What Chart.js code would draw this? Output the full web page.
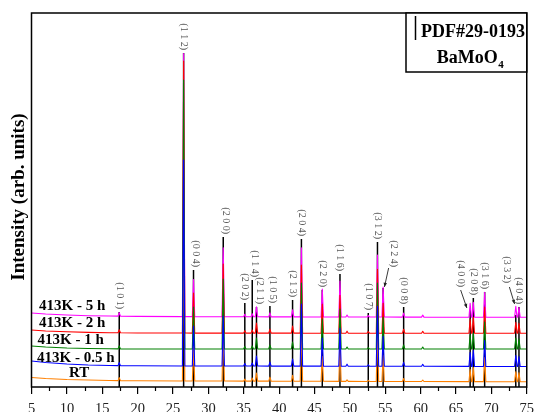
<!DOCTYPE html>
<html><head><meta charset="utf-8">
<script src="https://cdn.jsdelivr.net/npm/chart.js@4"></script>
<style>html,body{margin:0;padding:0;background:#fff;}canvas{display:block;}</style>
</head><body>
<canvas id="c" width="540" height="412"></canvas>
<script>
// ---- data (2theta in degrees, intensity in arbitrary units) ----
const seriesNames = ['RT', '413K - 0.5 h', '413K - 1 h', '413K - 2 h', '413K - 5 h'];
const baseX = [5, 7, 10, 13, 16, 20, 30, 50, 75];
const baseRT  = [9.5, 8.5, 7.5, 7.0, 6.5, 6.2, 6.0, 5.6, 5.3];
const base05h = [26, 24.5, 23, 22, 21.5, 21.2, 21, 20.8, 20.5];
const base1h  = [41, 40, 39, 38.5, 38.2, 38, 38, 38, 38];
const base2h  = [57, 56, 55.2, 54.6, 54.3, 54, 53.9, 53.8, 53.7];
const base5h  = [74, 73, 72, 71.3, 71, 70.6, 70.3, 70, 69.7];

const peakPos = [17.4, 26.5, 27.9, 32.1, 35.15, 36.2, 36.8, 38.7, 41.9, 43.15, 46.1, 48.6, 49.6, 52.6, 53.9, 54.7, 57.6, 60.3, 67.0, 67.45, 69.05, 73.45, 73.9];
const heightRT  = [3, 180, 35, 50, 2, 3, 8, 4, 6, 55, 25, 34, 1.5, 1, 55, 26, 3, 1.5, 12, 14, 24, 10, 9];
const height05h = [3, 206, 40, 50, 2.5, 3, 10, 4, 7, 62, 28, 38, 2, 1.5, 60, 30, 4, 2, 14, 16, 26, 11, 10];
const height1h  = [3, 269, 42, 70, 2.5, 3, 11, 4, 7, 66, 30, 40, 2, 1.5, 66, 32, 4, 2, 14, 16, 27, 11, 10];
const height2h  = [3, 272, 40, 69, 2.5, 3, 10, 4, 7, 68, 29, 38, 2, 1.5, 64, 30, 4, 2, 14, 16, 26, 11, 10];
const height5h  = [3.5, 263, 37, 69, 2.5, 3, 10, 4, 7, 69, 28, 36, 2, 1.5, 62, 30, 4, 2, 14, 15, 25, 11, 10];

// PDF#29-0193 reference lines
const stickPos = [17.4, 26.5, 27.9, 32.1, 35.15, 36.2, 36.8, 38.7, 41.9, 43.15, 46.1, 48.6, 52.6, 53.9, 54.7, 57.6, 67.0, 67.45, 69.05, 73.45, 73.9];
const stickTop = [75, 334, 117, 150, 84, 107, 80, 81, 87, 148, 97, 113, 74, 145, 99, 80, 77, 89, 95, 72, 80];
const stickHkl = ['(1 0 1)','(1 1 2)','(0 0 4)','(2 0 0)','(2 0 2)','(1 1 4)','(2 1 1)','(1 0 5)','(2 1 3)','(2 0 4)','(2 2 0)','(1 1 6)','(1 0 7)','(3 1 2)','(2 2 4)','(0 0 8)','(4 0 0)','(2 0 8)','(3 1 6)','(3 3 2)','(4 0 4)'];

const xTicks = [5, 10, 15, 20, 25, 30, 35, 40, 45, 50, 55, 60, 65, 70, 75];

// ---- layout / style (not data) ----
const HW = 0.17;
const colors = {'RT':'#ff8000','413K - 0.5 h':'#0000ff','413K - 1 h':'#008000','413K - 2 h':'#ff0000','413K - 5 h':'#ff00ff'};
const labelDx = {'(0 0 4)':2,'(2 0 0)':2,'(1 1 4)':2,'(2 1 1)':3,'(1 0 5)':3};
const arrowLabels = {
  '(2 2 4)': {lx:10.6, ly:-21, a0:[5.5,-20], a1:[1.3,-1]},
  '(4 0 0)': {lx:-10, ly:-23, a0:[-9.5,-20], a1:[-3.3,-2]},
  '(3 3 2)': {lx:-8.8, ly:-32, a0:[-6.4,-28], a1:[-1.2,-11]}
};
const nameLabelPos = {'413K - 5 h':[39,306.5],'413K - 2 h':[39,323],'413K - 1 h':[37.5,340],'413K - 0.5 h':[37,358],'RT':[69,373.5]};

function baseAt(base, x) {
  for (let i = 0; i < baseX.length - 1; i++) {
    if (x >= baseX[i] && x <= baseX[i+1]) {
      const t = (x - baseX[i]) / (baseX[i+1] - baseX[i]);
      return base[i] + t * (base[i+1] - base[i]);
    }
  }
  return base[base.length - 1];
}
function buildTrace(base, heights) {
  const pts = baseX.map((x, i) => ({x, y: base[i]}));
  peakPos.forEach((p, i) => {
    const b = baseAt(base, p);
    pts.push({x: p - HW, y: b}, {x: p, y: b + heights[i]}, {x: p + HW, y: b});
  });
  pts.sort((a, b) => a.x - b.x);
  return pts;
}
const sticks = [];
stickPos.forEach((p, i) => { sticks.push({x: p, y: 0}, {x: p, y: stickTop[i]}, {x: p, y: null}); });

const traceDefs = [
  ['RT', baseRT, heightRT, 9],
  ['413K - 5 h', base5h, height5h, 8],
  ['413K - 2 h', base2h, height2h, 7],
  ['413K - 1 h', base1h, height1h, 6],
  ['413K - 0.5 h', base05h, height05h, 5]
];
const datasets = [{label: 'PDF#29-0193', data: sticks, borderColor: '#000', borderWidth: 1.5, pointRadius: 0, order: 10, spanGaps: false}];
traceDefs.forEach(([name, b, h, ord]) => {
  datasets.push({label: name, data: buildTrace(b, h), borderColor: colors[name], borderWidth: 1.1, pointRadius: 0, order: ord, tension: 0});
});

const SERIF = '"Liberation Serif", "Times New Roman", serif';
const decor = {
  id: 'decor',
  beforeDraw(chart) {
    const ctx = chart.ctx; ctx.save(); ctx.fillStyle = '#fff'; ctx.fillRect(0, 0, chart.width, chart.height); ctx.restore();
  },
  afterDraw(chart) {
    const {ctx, chartArea: a, scales: {x, y}} = chart;
    ctx.save();
    // frame
    ctx.strokeStyle = '#000'; ctx.lineWidth = 1.5;
    ctx.strokeRect(a.left, a.top, a.right - a.left, a.bottom - a.top);
    // minor ticks
    ctx.lineWidth = 1.2;
    for (let v = 7.5; v < 75; v += 5) {
      const px = Math.round(x.getPixelForValue(v)) + 0.5;
      ctx.beginPath(); ctx.moveTo(px, a.bottom); ctx.lineTo(px, a.bottom + 4); ctx.stroke();
    }
    // peak labels
    ctx.font = '10px ' + SERIF; ctx.fillStyle = '#555';
    stickPos.forEach((p, i) => {
      const lab = stickHkl[i];
      const sx = x.getPixelForValue(p), sy = y.getPixelForValue(stickTop[i]);
      let px = sx + (labelDx[lab] || 0), py = sy - 3;
      const ar = arrowLabels[lab];
      if (ar) {
        px = sx + ar.lx; py = sy + ar.ly;
        const x0 = sx + ar.a0[0], y0 = sy + ar.a0[1], x1 = sx + ar.a1[0], y1 = sy + ar.a1[1];
        ctx.strokeStyle = '#222'; ctx.lineWidth = 0.9;
        ctx.beginPath(); ctx.moveTo(x0, y0); ctx.lineTo(x1, y1); ctx.stroke();
        const ang = Math.atan2(y1 - y0, x1 - x0), L = 4.5;
        ctx.fillStyle = '#222';
        ctx.beginPath(); ctx.moveTo(x1, y1);
        ctx.lineTo(x1 - L * Math.cos(ang - 0.4), y1 - L * Math.sin(ang - 0.4));
        ctx.lineTo(x1 - L * Math.cos(ang + 0.4), y1 - L * Math.sin(ang + 0.4));
        ctx.closePath(); ctx.fill();
        ctx.fillStyle = '#555';
      }
      ctx.save(); ctx.translate(px, py); ctx.rotate(Math.PI / 2);
      ctx.textAlign = 'right'; ctx.textBaseline = 'middle';
      ctx.fillText(lab, 0, 0); ctx.restore();
    });
    // series names
    ctx.font = 'bold 15px ' + SERIF; ctx.fillStyle = '#000'; ctx.textAlign = 'left'; ctx.textBaseline = 'middle';
    seriesNames.forEach(n => { const q = nameLabelPos[n]; ctx.fillText(n, q[0], q[1]); });
    // y title
    ctx.save(); ctx.translate(19, 197); ctx.rotate(-Math.PI / 2);
    ctx.font = 'bold 19px ' + SERIF; ctx.textAlign = 'center'; ctx.textBaseline = 'middle';
    ctx.fillText('Intensity (arb. units)', 0, 0); ctx.restore();
    // legend box
    ctx.lineWidth = 1.5; ctx.strokeStyle = '#000';
    ctx.fillStyle = '#fff';
    ctx.fillRect(406, a.top, a.right - 406, 72 - a.top);
    ctx.strokeRect(406, a.top, a.right - 406, 72 - a.top);
    ctx.beginPath(); ctx.moveTo(415.5, 16); ctx.lineTo(415.5, 40); ctx.stroke();
    ctx.fillStyle = '#000'; ctx.textBaseline = 'alphabetic'; ctx.textAlign = 'left';
    ctx.font = 'bold 18px ' + SERIF;
    ctx.fillText('PDF#29-0193', 421, 36.5);
    const w1 = ctx.measureText('BaMoO').width;
    ctx.font = 'bold 11px ' + SERIF;
    const w2 = ctx.measureText('4').width;
    const sx0 = 470 - (w1 + w2) / 2;
    ctx.font = 'bold 18px ' + SERIF;
    ctx.fillText('BaMoO', sx0, 63);
    ctx.font = 'bold 11px ' + SERIF;
    ctx.fillText('4', sx0 + w1 + 0.5, 67.5);
    ctx.restore();
  }
};

new Chart(document.getElementById('c'), {
  type: 'line',
  data: {datasets},
  options: {
    responsive: false, animation: false, devicePixelRatio: 1,
    layout: {padding: {left: 31.5, top: 13, right: 8, bottom: 0}},
    plugins: {legend: {display: false}, tooltip: {enabled: false}},
    elements: {line: {borderJoinStyle: 'round'}},
    scales: {
      x: {
        type: 'linear', min: 5, max: 75,
        afterBuildTicks: (s) => { s.ticks = xTicks.map(v => ({value: v})); },
        afterFit: (s) => { s.height = 25; },
        ticks: {font: {family: SERIF, size: 14.5}, color: '#222', padding: 6, maxRotation: 0, autoSkip: false},
        grid: {display: true, drawOnChartArea: false, drawTicks: true, tickLength: 7, color: '#000', lineWidth: 1.2},
        border: {display: false}
      },
      y: {type: 'linear', min: 0, max: 374, display: false}
    }
  },
  plugins: [decor]
});
</script>
</body></html>
